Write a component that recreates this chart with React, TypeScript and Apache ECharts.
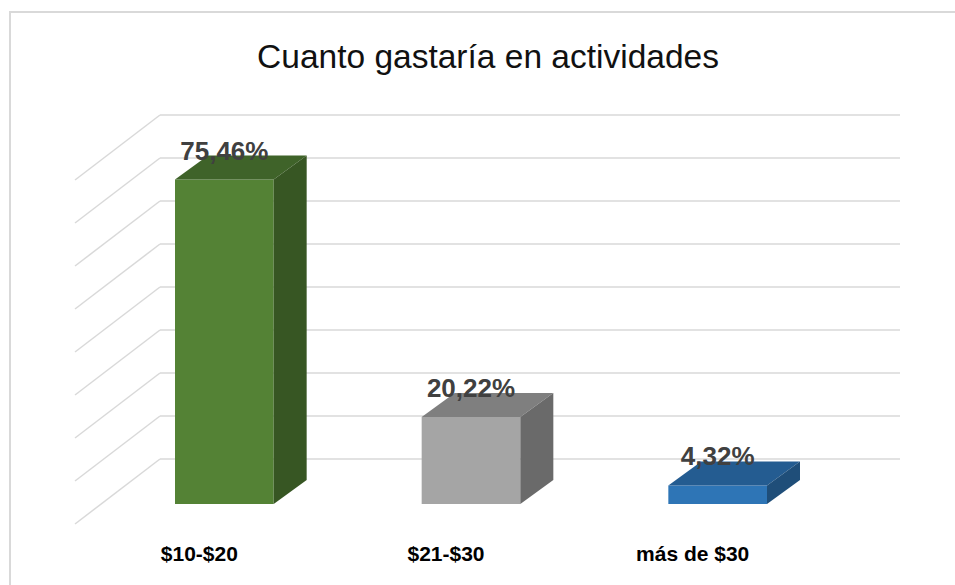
import React, { useEffect, useRef } from "react";
import * as echarts from "echarts";

const titleText = "Cuanto gastaría en actividades";
const categories = ["$10-$20", "$21-$30", "más de $30"];
const values = [75.46, 20.22, 4.32];
const valueLabels = ["75,46%", "20,22%", "4,32%"];
const gridTicks = [0, 10, 20, 30, 40, 50, 60, 70, 80];

const frontColors = ["#548235", "#a5a5a5", "#2e75b6"];
const topColors = ["#3f6329", "#7f7f7f", "#245c91"];
const sideColors = ["#375623", "#6a6a6a", "#1f4e79"];

const FONT = "'Liberation Sans', Arial, sans-serif";
const DEPTH_DX = 33;
const DEPTH_DY = -24;
const WALL_DX = 59;
const WALL_DY = -45;
const FLOOR_DX = -85;
const FLOOR_DY = 65;

export default function App() {
  const ref = useRef<HTMLDivElement>(null);

  useEffect(() => {
    if (!ref.current) return;
    const chart = echarts.init(ref.current, undefined, { renderer: "svg" });
    const option: any = {
      animation: false,
      backgroundColor: "#ffffff",
      graphic: [
        {
          type: "rect",
          shape: { x: 10, y: 12, width: 980, height: 620 },
          style: { fill: "none", stroke: "#d9d9d9", lineWidth: 2 },
          silent: true,
          z: 0,
        },
        {
          type: "text",
          x: 488,
          y: 56,
          style: {
            text: titleText,
            fontFamily: FONT,
            fontSize: 33.5,
            fill: "#111111",
            textAlign: "center",
            textVerticalAlign: "middle",
          },
          z: 10,
        },
      ],
      grid: { left: 101, right: 114, top: 160, bottom: 81 },
      xAxis: {
        type: "category",
        data: categories,
        axisLine: { show: false },
        axisTick: { show: false },
        axisLabel: { show: false },
        splitLine: { show: false },
      },
      yAxis: {
        type: "value",
        min: 0,
        max: 80,
        interval: 10,
        axisLine: { show: false },
        axisTick: { show: false },
        axisLabel: { show: false },
        splitLine: { show: false },
      },
      series: [
        {
          type: "custom",
          z: 1,
          silent: true,
          data: gridTicks.map((t) => [0, t]),
          encode: { x: 0, y: 1 },
          renderItem: (params: any, api: any) => {
            const v = api.value(1);
            const y = api.coord([0, v])[1] + WALL_DY;
            const cs = params.coordSys;
            const bx0 = cs.x + WALL_DX;
            const bx1 = cs.x + cs.width + WALL_DX;
            const style = { stroke: "#d9d9d9", lineWidth: 1.5 };
            return {
              type: "group",
              children: [
                { type: "line", shape: { x1: bx0, y1: y, x2: bx1, y2: y }, style },
                {
                  type: "line",
                  shape: { x1: bx0, y1: y, x2: bx0 + FLOOR_DX, y2: y + FLOOR_DY },
                  style,
                },
              ],
            };
          },
        },
        {
          type: "custom",
          z: 2,
          data: values.map((v, i) => [i, v]),
          encode: { x: 0, y: 1 },
          renderItem: (params: any, api: any) => {
            const i = api.value(0);
            const v = api.value(1);
            const top = api.coord([i, v]);
            const base = api.coord([i, 0]);
            const w = api.size([1, 0])[0] * 0.4;
            const cx = top[0];
            const x0 = cx - w / 2;
            const yt = top[1];
            const yb = base[1];
            return {
              type: "group",
              children: [
                {
                  type: "rect",
                  shape: { x: x0, y: yt, width: w, height: yb - yt },
                  style: { fill: frontColors[i] },
                },
                {
                  type: "polygon",
                  shape: {
                    points: [
                      [x0, yt],
                      [x0 + w, yt],
                      [x0 + w + DEPTH_DX, yt + DEPTH_DY],
                      [x0 + DEPTH_DX, yt + DEPTH_DY],
                    ],
                  },
                  style: { fill: topColors[i] },
                },
                {
                  type: "polygon",
                  shape: {
                    points: [
                      [x0 + w, yt],
                      [x0 + w + DEPTH_DX, yt + DEPTH_DY],
                      [x0 + w + DEPTH_DX, yb + DEPTH_DY],
                      [x0 + w, yb],
                    ],
                  },
                  style: { fill: sideColors[i] },
                },
                {
                  type: "text",
                  x: cx,
                  y: yt - 29,
                  style: {
                    text: valueLabels[i],
                    fontFamily: FONT,
                    fontSize: 26,
                    fontWeight: "bold",
                    fill: "#404040",
                    textAlign: "center",
                    textVerticalAlign: "middle",
                  },
                },
                {
                  type: "text",
                  x: cx - 25,
                  y: yb + 49,
                  style: {
                    text: categories[i],
                    fontFamily: FONT,
                    fontSize: 21,
                    fontWeight: "bold",
                    fill: "#000000",
                    textAlign: "center",
                    textVerticalAlign: "middle",
                  },
                },
              ],
            };
          },
        },
      ],
    };
    chart.setOption(option);
    return () => chart.dispose();
  }, []);

  return (
    <div
      ref={ref}
      style={{ position: "fixed", left: 0, top: 0, width: 955, height: 585 }}
    />
  );
}
